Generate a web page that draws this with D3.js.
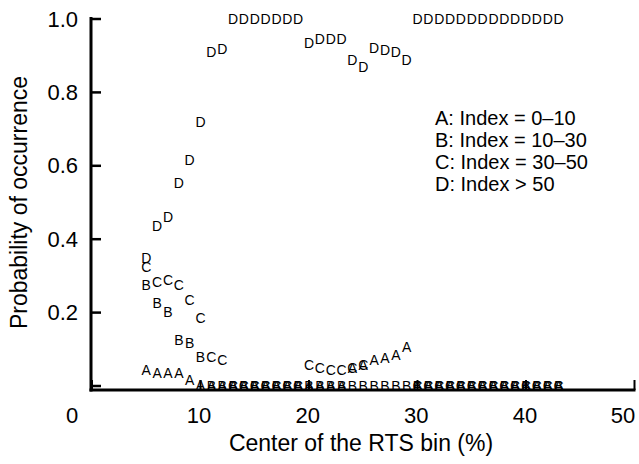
<!DOCTYPE html>
<html>
<head>
<script src="https://d3js.org/d3.v7.min.js"></script>
<style>
  body { margin: 0; background: #fff; }
  text { font-family: "Liberation Sans", Arial, sans-serif; fill: #000; }
</style>
</head>
<body>
<div class="chart"></div>
<script>
var w = 639, h = 464;

// bin centers (%) and probability of each index class (null = not plotted)
var bins = [5,6,7,8,9,10,11,12,13,14,15,16,17,18,19,20,21,22,23,24,25,26,27,28,29,30,31,32,33,34,35,36,37,38,39,40,41,42,43];
var seriesA = [0.044,0.035,0.035,0.035,0.016,0.003,0,0,0,0,0,0,0,0,0,0,0,0,0,0.049,0.057,0.071,0.076,0.084,0.106,0,0,0,0,0,0,0,0,0,0,0,0,0,0];
var seriesB = [0.275,0.226,0.202,0.125,0.117,0.079,0,0,0,0,0,0,0,0,0,0,0,0,0,0,0,0,0,0,0,0,0,0,0,0,0,0,0,0,0,0,0,0,0];
var seriesC = [0.324,0.283,0.290,0.275,0.235,0.185,0.079,0.071,0,0,0,0,0,0,0,0.057,0.049,0.044,0.044,0.049,0.057,null,null,null,null,0,0,0,0,0,0,0,0,0,0,0,0,0,0];
var seriesD = [0.349,0.436,0.460,0.553,0.616,0.720,0.910,0.918,1,1,1,1,1,1,1,0.935,0.945,0.945,0.945,0.888,0.870,0.920,0.915,0.910,0.888,1,1,1,1,1,1,1,1,1,1,1,1,1,1];
var seriesNames = ["A","B","C","D"];
var legendLabels = ["A: Index = 0\u201310","B: Index = 10\u201330","C: Index = 30\u201350","D: Index > 50"];
var xTicks = [0,10,20,30,40,50];
var yTicks = [0.2,0.4,0.6,0.8,1.0];

var svg = d3.select(".chart").append("svg")
  .attr("width", w).attr("height", h);

var x = d3.scaleLinear().domain([0, 50]).range([92, 634.5]);
var y = d3.scaleLinear().domain([0, 1]).range([386, 19]);
// tick labels sit slightly off their ticks in the original
var xLabel = d3.scaleLinear().domain([0, 10, 40, 50]).range([72, 199, 525, 623]);
var axisY = 390, axisX = 91;

// letters
var all = [seriesA, seriesB, seriesC, seriesD];
all.forEach(function(vals, k) {
  var pts = bins.map(function(b, i) { return {bin: b, p: vals[i]}; })
    .filter(function(d) { return d.p != null; });
  svg.append("g").selectAll("text")
    .data(pts)
    .enter().append("text")
    .attr("x", function(d) { return x(d.bin); })
    .attr("y", function(d) { return y(d.p); })
    .attr("text-anchor", "middle")
    .attr("dominant-baseline", "central")
    .style("font-size", "14px")
    .text(seriesNames[k]);
});

// axes
var ax = svg.append("g").attr("stroke", "#000");
ax.append("line").attr("x1", axisX).attr("x2", axisX)
  .attr("y1", y(1) - 2).attr("y2", axisY + 1.5).attr("stroke-width", 3);
ax.append("line").attr("x1", axisX - 1.5).attr("x2", x(50) + 1)
  .attr("y1", axisY).attr("y2", axisY).attr("stroke-width", 3);
ax.selectAll(".yt").data([0].concat(yTicks)).enter().append("line")
  .attr("x1", axisX).attr("x2", axisX + 10)
  .attr("y1", function(d) { return y(d); }).attr("y2", function(d) { return y(d); })
  .attr("stroke-width", 2.5);
ax.selectAll(".xt").data(xTicks).enter().append("line")
  .attr("x1", function(d) { return x(d); }).attr("x2", function(d) { return x(d); })
  .attr("y1", axisY).attr("y2", axisY - 10)
  .attr("stroke-width", 2);

svg.append("g").selectAll("text").data(yTicks).enter().append("text")
  .attr("x", 78).attr("y", function(d) { return y(d); })
  .attr("text-anchor", "end").attr("dominant-baseline", "central")
  .style("font-size", "22px")
  .text(function(d) { return d.toFixed(1); });

svg.append("g").selectAll("text").data(xTicks).enter().append("text")
  .attr("x", function(d) { return xLabel(d); }).attr("y", 415)
  .attr("text-anchor", "middle").attr("dominant-baseline", "central")
  .style("font-size", "22px")
  .text(function(d) { return d; });

svg.append("text")
  .attr("x", 361).attr("y", 443)
  .attr("text-anchor", "middle").attr("dominant-baseline", "central")
  .style("font-size", "23px")
  .text("Center of the RTS bin (%)");

svg.append("text")
  .attr("transform", "translate(19," + ((y(0) + y(1)) / 2) + ") rotate(-90)")
  .attr("text-anchor", "middle").attr("dominant-baseline", "central")
  .style("font-size", "23px")
  .text("Probability of occurrence");

svg.append("g").selectAll("text").data(legendLabels).enter().append("text")
  .attr("x", 435).attr("y", function(d, i) { return 118 + i * 22; })
  .attr("dominant-baseline", "central")
  .style("font-size", "20px")
  .text(function(d) { return d; });
</script>
</body>
</html>
